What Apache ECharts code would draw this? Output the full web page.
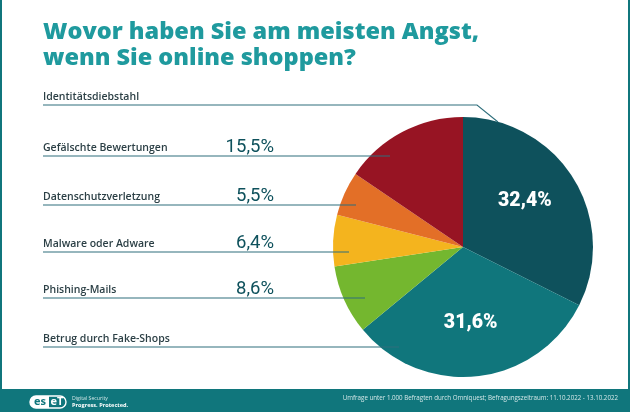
<!DOCTYPE html>
<html><head><meta charset="utf-8">
<style>html,body{margin:0;padding:0;background:#fff}#c{width:630px;height:412px}</style>
<script src="https://cdn.jsdelivr.net/npm/echarts@6/dist/echarts.min.js"></script>
</head><body><div id="c"></div>
<script>
const categories=["Identitätsdiebstahl","Betrug durch Fake-Shops","Phishing-Mails","Malware oder Adware","Datenschutzverletzung","Gefälschte Bewertungen"];
const values=[32.4,31.6,8.6,6.4,5.5,15.5];
const colors=["#0e515c","#10767c","#74b72f","#f4b41e","#e36f27","#971423"];
const rowY=[105,347,298,252,205,156];
const lineEnd=[477,399,365,349,356,390];
const valueRight=274;
const insideShift=[[4,-10],[0,9]];
const fmt=v=>v.toFixed(1).replace('.',',')+'%';
const font='"Open Sans"';
const numFont='Roboto';
const chart=echarts.init(document.getElementById('c'),null,{renderer:'canvas'});
const g=[];
g.push({type:'rect',shape:{x:0,y:0,width:2,height:412},style:{fill:'#10767c'}});
g.push({type:'rect',shape:{x:628,y:0,width:2,height:412},style:{fill:'#10767c'}});
g.push({type:'rect',shape:{x:0,y:389,width:630,height:23},style:{fill:'#10767c'}});
categories.forEach((n,i)=>{
  g.push({type:'text',x:43,y:rowY[i]-2,z:5,style:{text:n,font:'600 10.5px '+font,fill:'#2b3f45',textAlign:'left',textVerticalAlign:'bottom'}});
  const pts=i===0?[[43,rowY[i]],[lineEnd[i],rowY[i]],[498,122]]:[[43,rowY[i]],[lineEnd[i],rowY[i]]];
  g.push({type:'polyline',z:20,shape:{points:pts},style:{stroke:'#2f6f7c',lineWidth:1.1,fill:null}});
});
g.push({type:'rect',z:5,shape:{x:30,y:396,width:36,height:12,r:6},style:{fill:'#10767c',stroke:'#fff',lineWidth:1.4}});
g.push({type:'rect',z:5,shape:{x:30,y:396,width:19,height:12,r:[6,0,0,6]},style:{fill:'#fff'}});
g.push({type:'text',z:6,x:40,y:402,style:{text:'es',font:'bold 11px '+font,fill:'#10767c',textAlign:'center',textVerticalAlign:'middle'}});
g.push({type:'text',z:6,x:57,y:402,style:{text:'eT',font:'bold 11px '+font,fill:'#fff',textAlign:'center',textVerticalAlign:'middle'}});
g.push({type:'text',z:6,x:72,y:399,style:{text:'Digital Security',font:'5.2px '+font,fill:'#cfe5e6',textVerticalAlign:'middle'}});
g.push({type:'text',z:6,x:72,y:405.5,style:{text:'Progress. Protected.',font:'bold 5.6px '+font,fill:'#fff',textVerticalAlign:'middle'}});
g.push({type:'text',z:6,x:618,y:398,style:{text:'Umfrage unter 1.000 Befragten durch Omniquest; Befragungszeitraum: 11.10.2022 - 13.10.2022',font:'6.2px '+font,fill:'#d5e8e9',textAlign:'right',textVerticalAlign:'middle'}});
chart.setOption({
  animation:false,
  title:{text:'Wovor haben Sie am meisten Angst,\nwenn Sie online shoppen?',left:43,top:20,padding:0,
    textStyle:{fontFamily:font,fontWeight:800,fontSize:23.5,lineHeight:25.5,color:'#1f9a9e'}},
  graphic:g,
  series:[{type:'pie',center:[463,247],radius:[0,130],startAngle:90,clockwise:true,
    silent:true,avoidLabelOverlap:false,
    labelLine:{show:false},
    label:{show:true,formatter:p=>fmt(p.value),fontFamily:numFont,fontSize:18.5,color:'#0e515c',position:'outside'},
    labelLayout:p=>{
      const i=p.dataIndex;
      if(i<2) return {dx:insideShift[i][0],dy:insideShift[i][1]};
      return {x:valueRight,y:rowY[i]-9,align:'right',verticalAlign:'middle'};
    },
    data:categories.map((n,i)=>({name:n,value:values[i],itemStyle:{color:colors[i]},
      label:i<2?{position:'inside',color:'#fff',fontWeight:900,fontSize:19.5}:{}}))
  }]
});
</script></body></html>
